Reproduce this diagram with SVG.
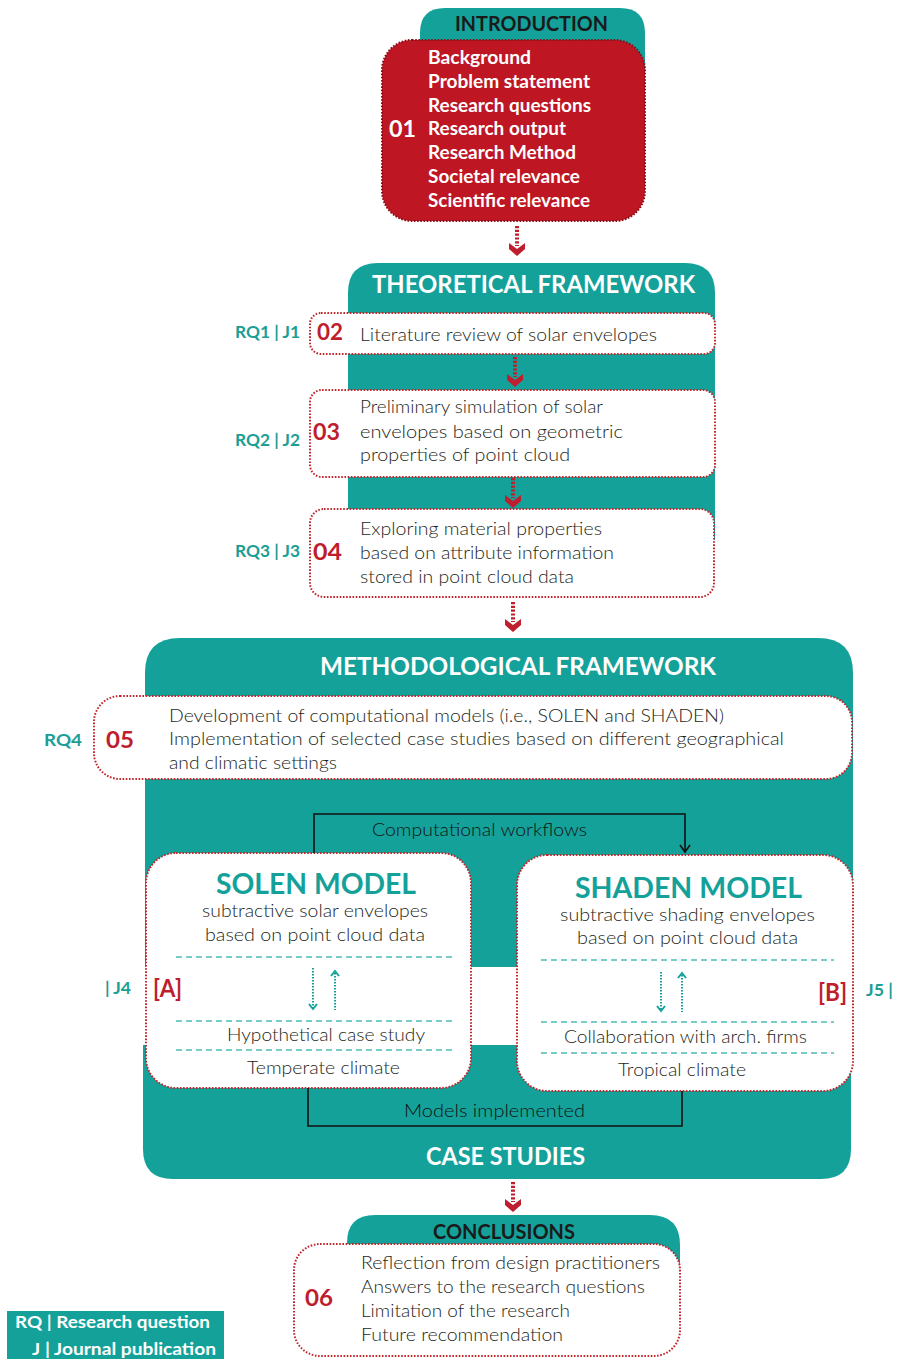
<svg xmlns="http://www.w3.org/2000/svg" width="899" height="1359" viewBox="0 0 899 1359">
<defs>
<style>
text{font-family:Lato,"Open Sans","Liberation Sans",sans-serif;}
.body{font-size:18px;font-weight:300;fill:#231f20;}
.intro{font-size:18px;font-weight:700;fill:#fff;}
.hdr{font-size:24px;font-weight:700;fill:#fff;}
.hdrd{font-size:21px;font-weight:700;fill:#1a1a1a;}
.num{font-size:23px;font-weight:700;fill:#be1e2d;}
.rq{font-size:17px;font-weight:700;fill:#1a9e96;}
.model{font-size:29px;font-weight:700;fill:#14a19a;}
.ab{font-size:25px;font-weight:700;fill:#be1e2d;}
.teal{fill:#14a19a;}
.box{fill:#fff;stroke:#c1272d;stroke-width:2;stroke-dasharray:1.6 1.6;}
.dash{stroke:#4dbdb6;stroke-width:1.5;stroke-dasharray:6 4;fill:none;}
.tarrow{stroke:#14a19a;stroke-width:2;fill:none;}
.blk{stroke:#111;stroke-width:1.6;fill:none;}
.leg{font-size:17px;font-weight:700;fill:#fff;}
</style>
<g id="darrow">
<line x1="0" y1="0" x2="0" y2="20" stroke="#be1e2d" stroke-width="4" stroke-dasharray="2.2 1.6"/>
<path d="M-8,17 L0,23 L8,17 L8,23 L0,30 L-8,23 Z" fill="#be1e2d"/>
</g>
</defs>
<rect width="899" height="1359" fill="#fff"/>

<g id="intro">
<path class="teal" d="M420,80 V33 Q420,8 445,8 H620 Q645,8 645,33 V80 Z"/>
<text class="hdrd" x="455" y="31" textLength="153" lengthAdjust="spacingAndGlyphs">INTRODUCTION</text>
<rect x="382" y="40" width="263" height="181" rx="30" fill="#be1622" stroke="#8a0d16" stroke-width="2" stroke-dasharray="1.6 1.6"/>
<text x="389" y="137" style="font-size:22px;font-weight:700;fill:#fff" textLength="27" lengthAdjust="spacingAndGlyphs">01</text>
<text class="intro" x="428" y="64" textLength="103" lengthAdjust="spacingAndGlyphs">Background</text>
<text class="intro" x="428" y="88" textLength="162" lengthAdjust="spacingAndGlyphs">Problem statement</text>
<text class="intro" x="428" y="112" textLength="163" lengthAdjust="spacingAndGlyphs">Research questions</text>
<text class="intro" x="428" y="135" textLength="138" lengthAdjust="spacingAndGlyphs">Research output</text>
<text class="intro" x="428" y="159" textLength="148" lengthAdjust="spacingAndGlyphs">Research Method</text>
<text class="intro" x="428" y="183" textLength="152" lengthAdjust="spacingAndGlyphs">Societal relevance</text>
<text class="intro" x="428" y="207" textLength="162" lengthAdjust="spacingAndGlyphs">Scientific relevance</text>
</g>

<g id="theoretical-framework">
<path class="teal" d="M348,540 V293 Q348,263 378,263 H685 Q715,263 715,293 V540 Z"/>
<text class="hdr" x="372" y="293" textLength="323" lengthAdjust="spacingAndGlyphs">THEORETICAL FRAMEWORK</text>
</g>

<g id="n02">
<rect class="box" x="310" y="313" width="405" height="41" rx="11"/>
<text class="num" x="317" y="340" textLength="26" lengthAdjust="spacingAndGlyphs">02</text>
<text class="body" x="360" y="341" textLength="297" lengthAdjust="spacingAndGlyphs">Literature review of solar envelopes</text>
<text class="rq" x="235" y="338" textLength="65" lengthAdjust="spacingAndGlyphs">RQ1 | J1</text>
</g>

<g id="n03">
<rect class="box" x="310" y="390" width="405" height="87" rx="12"/>
<text class="num" x="313" y="440" textLength="27" lengthAdjust="spacingAndGlyphs">03</text>
<text class="body" x="360" y="413" textLength="243" lengthAdjust="spacingAndGlyphs">Preliminary simulation of solar</text>
<text class="body" x="360" y="438" textLength="263" lengthAdjust="spacingAndGlyphs">envelopes based on geometric</text>
<text class="body" x="360" y="461" textLength="210" lengthAdjust="spacingAndGlyphs">properties of point cloud</text>
<text class="rq" x="235" y="446" textLength="65" lengthAdjust="spacingAndGlyphs">RQ2 | J2</text>
</g>

<g id="n04">
<rect class="box" x="310" y="509" width="404" height="88" rx="14"/>
<text class="num" x="313" y="560" textLength="29" lengthAdjust="spacingAndGlyphs">04</text>
<text class="body" x="360" y="535" textLength="242" lengthAdjust="spacingAndGlyphs">Exploring material properties</text>
<text class="body" x="360" y="559" textLength="254" lengthAdjust="spacingAndGlyphs">based on attribute information</text>
<text class="body" x="360" y="583" textLength="214" lengthAdjust="spacingAndGlyphs">stored in point cloud data</text>
<text class="rq" x="235" y="557" textLength="65" lengthAdjust="spacingAndGlyphs">RQ3 | J3</text>
</g>

<g id="methodological-framework">
<path class="teal" d="M145,967 V673 Q145,638 180,638 H818 Q853,638 853,673 V967 Z"/>
<text class="hdr" x="320" y="675" textLength="396" lengthAdjust="spacingAndGlyphs">METHODOLOGICAL FRAMEWORK</text>
</g>

<g id="case-studies">
<path class="teal" d="M143,1045 H851 V1149 Q851,1179 821,1179 H173 Q143,1179 143,1149 Z"/>
<text class="hdr" x="426" y="1165" textLength="159" lengthAdjust="spacingAndGlyphs">CASE STUDIES</text>
</g>

<g id="n05">
<rect class="box" x="94" y="696" width="758" height="83" rx="26"/>
<text class="num" x="106" y="748" textLength="28" lengthAdjust="spacingAndGlyphs">05</text>
<text class="body" x="169" y="722" textLength="555" lengthAdjust="spacingAndGlyphs">Development of computational models (i.e., SOLEN and SHADEN)</text>
<text class="body" x="169" y="745" textLength="615" lengthAdjust="spacingAndGlyphs">Implementation of selected case studies based on different geographical</text>
<text class="body" x="169" y="769" textLength="168" lengthAdjust="spacingAndGlyphs">and climatic settings</text>
<text class="rq" x="44" y="746" textLength="38" lengthAdjust="spacingAndGlyphs">RQ4</text>
</g>

<g id="solen">
<rect class="box" x="146" y="853" width="325" height="235" rx="30"/>
<text class="model" x="216" y="894" textLength="200" lengthAdjust="spacingAndGlyphs">SOLEN MODEL</text>
<text class="body" x="202" y="917" textLength="226" lengthAdjust="spacingAndGlyphs">subtractive solar envelopes</text>
<text class="body" x="205" y="941" textLength="220" lengthAdjust="spacingAndGlyphs">based on point cloud data</text>
<line class="dash" x1="176" y1="957" x2="452" y2="957"/>
<line class="dash" x1="176" y1="1021" x2="452" y2="1021"/>
<line class="dash" x1="176" y1="1050" x2="452" y2="1050"/>
<text class="body" x="227" y="1041" textLength="198" lengthAdjust="spacingAndGlyphs">Hypothetical case study</text>
<text class="body" x="247" y="1074" textLength="153" lengthAdjust="spacingAndGlyphs">Temperate climate</text>
<text class="ab" x="153" y="997" textLength="29" lengthAdjust="spacingAndGlyphs">[A]</text>
<text class="rq" x="105" y="994" textLength="26" lengthAdjust="spacingAndGlyphs">| J4</text>
</g>

<g id="shaden">
<rect class="box" x="517" y="855" width="336" height="236" rx="30"/>
<text class="model" x="575" y="898" textLength="227" lengthAdjust="spacingAndGlyphs">SHADEN MODEL</text>
<text class="body" x="560" y="921" textLength="255" lengthAdjust="spacingAndGlyphs">subtractive shading envelopes</text>
<text class="body" x="577" y="944" textLength="221" lengthAdjust="spacingAndGlyphs">based on point cloud data</text>
<line class="dash" x1="541" y1="960" x2="834" y2="960"/>
<line class="dash" x1="541" y1="1022" x2="834" y2="1022"/>
<line class="dash" x1="541" y1="1053" x2="834" y2="1053"/>
<text class="body" x="564" y="1043" textLength="243" lengthAdjust="spacingAndGlyphs">Collaboration with arch. firms</text>
<text class="body" x="618" y="1076" textLength="128" lengthAdjust="spacingAndGlyphs">Tropical climate</text>
<text class="ab" x="818" y="1001" textLength="29" lengthAdjust="spacingAndGlyphs">[B]</text>
<text class="rq" x="866" y="996" textLength="27" lengthAdjust="spacingAndGlyphs">J5 |</text>
</g>

<g id="conclusions">
<path class="teal" d="M347,1270 V1243 Q347,1215 375,1215 H650 Q680,1215 680,1245 V1270 Z"/>
<text class="hdrd" x="433" y="1239" textLength="142" lengthAdjust="spacingAndGlyphs">CONCLUSIONS</text>
<rect class="box" x="294" y="1244" width="386" height="112" rx="26"/>
<text class="num" x="305" y="1306" textLength="28" lengthAdjust="spacingAndGlyphs">06</text>
<text class="body" x="361" y="1269" textLength="299" lengthAdjust="spacingAndGlyphs">Reflection from design practitioners</text>
<text class="body" x="361" y="1293" textLength="284" lengthAdjust="spacingAndGlyphs">Answers to the research questions</text>
<text class="body" x="361" y="1317" textLength="209" lengthAdjust="spacingAndGlyphs">Limitation of the research</text>
<text class="body" x="361" y="1341" textLength="202" lengthAdjust="spacingAndGlyphs">Future recommendation</text>
</g>

<g id="legend">
<rect class="teal" x="7" y="1311" width="217" height="48"/>
<text class="leg" x="15" y="1328" textLength="195" lengthAdjust="spacingAndGlyphs">RQ | Research question</text>
<text class="leg" x="32" y="1355" textLength="184" lengthAdjust="spacingAndGlyphs">J | Journal publication</text>
</g>

<g id="connectors">
<use href="#darrow" x="517" y="226"/>
<use href="#darrow" x="515" y="357"/>
<use href="#darrow" x="513" y="478"/>
<use href="#darrow" x="513" y="602"/>
<use href="#darrow" x="513" y="1182"/>
<polyline class="blk" points="314,853 314,814 685,814 685,851"/>
<polyline class="blk" points="680,845 685,852 690,845"/>
<text class="body" x="372" y="836" style="fill:#111" textLength="215" lengthAdjust="spacingAndGlyphs">Computational workflows</text>
<polyline class="blk" points="308,1088 308,1126 682,1126 682,1091"/>
<text class="body" x="404" y="1117" style="fill:#111" textLength="181" lengthAdjust="spacingAndGlyphs">Models implemented</text>
<line class="tarrow" x1="313" y1="968" x2="313" y2="1009" stroke-dasharray="1.5 1.5"/>
<polyline class="tarrow" points="309,1004 313,1009 317,1004"/>
<line class="tarrow" x1="335" y1="973" x2="335" y2="1010" stroke-dasharray="1.5 1.5"/>
<polyline class="tarrow" points="331,976 335,971 339,976"/>
<line class="tarrow" x1="661" y1="972" x2="661" y2="1011" stroke-dasharray="1.5 1.5"/>
<polyline class="tarrow" points="657,1006 661,1011 665,1006"/>
<line class="tarrow" x1="682" y1="975" x2="682" y2="1012" stroke-dasharray="1.5 1.5"/>
<polyline class="tarrow" points="678,978 682,973 686,978"/>
</g>
</svg>
